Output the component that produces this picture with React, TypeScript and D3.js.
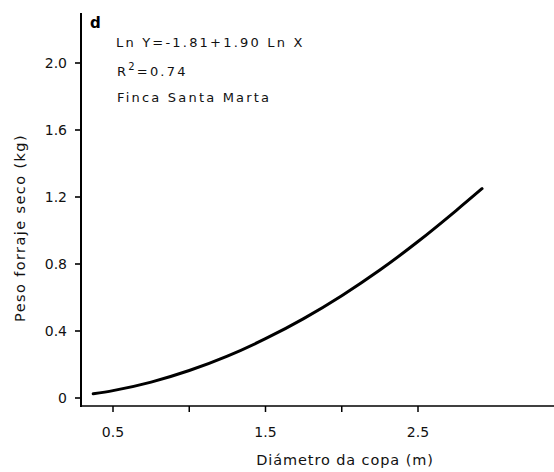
import React from "react";
import * as d3 from "d3";

// Fitted curve read at regular crown diameters (m) -> dry forage weight (kg)
const curveX = [0.37, 0.5, 0.75, 1.0, 1.25, 1.5, 1.75, 2.0, 2.25, 2.5, 2.75, 2.92];
const curveY = [0.025, 0.044, 0.095, 0.164, 0.25, 0.354, 0.474, 0.611, 0.764, 0.934, 1.119, 1.25];

const yTicks = [0, 0.4, 0.8, 1.2, 1.6, 2.0];
const yTickLabels = ["0", "0.4", "0.8", "1.2", "1.6", "2.0"];
const xTicks = [0.5, 1.0, 1.5, 2.0, 2.5];
const xTickLabels = ["0.5", "", "1.5", "", "2.5"];

const panelLabel = "d";
const equationLines = ["Ln Y=-1.81+1.90 Ln X", "Finca Santa Marta"];
const r2Value = "0.74";
const xTitle = "Diámetro da copa (m)";
const yTitle = "Peso forraje seco (kg)";

const W = 554;
const H = 472;
const FONT = "'DejaVu Sans', 'Liberation Sans', sans-serif";

export default function App() {
  const axisX = 81;
  const axisY = 406;
  const x = d3.scaleLinear().domain([0.5, 2.5]).range([113, 418]);
  const y = d3.scaleLinear().domain([0, 2.0]).range([398, 63]);

  const pts: [number, number][] = curveX.map((v, i) => [v, curveY[i]]);
  const line = d3
    .line<[number, number]>()
    .x((d) => x(d[0]))
    .y((d) => y(d[1]))
    .curve(d3.curveMonotoneX);

  return (
    <svg
      width={W}
      height={H}
      style={{ position: "absolute", left: 0, top: 0, background: "#fff" }}
      fontFamily={FONT}
    >
      {/* axes */}
      <line x1={axisX} y1={13} x2={axisX} y2={axisY + 1} stroke="#000" strokeWidth={2} />
      <line x1={axisX - 1} y1={axisY} x2={W} y2={axisY} stroke="#000" strokeWidth={1.6} />

      {/* y ticks */}
      {yTicks.map((t, i) => (
        <g key={"y" + i}>
          <line x1={axisX - 6} x2={axisX} y1={y(t)} y2={y(t)} stroke="#000" strokeWidth={1.6} />
          <text
            x={67}
            y={y(t)}
            dy="0.35em"
            textAnchor="end"
            fontSize={14}
            fill="#111"
          >
            {yTickLabels[i]}
          </text>
        </g>
      ))}

      {/* x ticks */}
      {xTicks.map((t, i) => (
        <g key={"x" + i}>
          <line x1={x(t)} x2={x(t)} y1={axisY} y2={axisY + 6} stroke="#000" strokeWidth={1.5} />
          <text x={x(t)} y={437} textAnchor="middle" fontSize={14} fill="#111">
            {xTickLabels[i]}
          </text>
        </g>
      ))}

      {/* regression curve */}
      <path d={line(pts) || ""} fill="none" stroke="#000" strokeWidth={3} strokeLinecap="round" />

      {/* annotations */}
      <text x={90} y={28} fontSize={15} fontWeight="bold" fill="#000">
        {panelLabel}
      </text>
      <g fontSize={13} letterSpacing={2.2} fill="#111">
        <text x={116} y={47}>
          {equationLines[0]}
        </text>
        <text x={117} y={76}>
          R<tspan dy={-6} fontSize={10}>2</tspan>
          <tspan dy={6}>={r2Value}</tspan>
        </text>
        <text x={117} y={102}>
          {equationLines[1]}
        </text>
      </g>

      {/* axis titles */}
      <text
        x={345}
        y={465}
        textAnchor="middle"
        fontSize={14.5}
        letterSpacing={0.9}
        fill="#111"
      >
        {xTitle}
      </text>
      <text
        transform={`translate(25, 228) rotate(-90)`}
        textAnchor="middle"
        fontSize={14.5}
        letterSpacing={1.4}
        fill="#111"
      >
        {yTitle}
      </text>
    </svg>
  );
}
